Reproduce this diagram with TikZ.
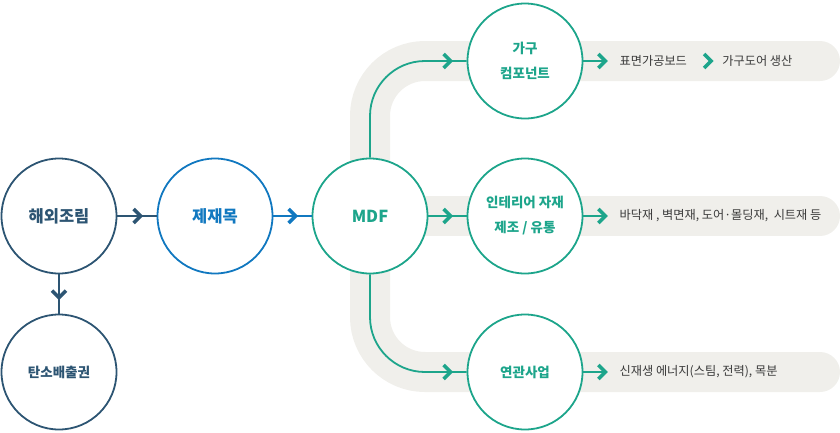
\documentclass[tikz,border=0pt]{standalone}
\usepackage{fontspec}
\setmainfont{Noto Sans CJK KR}
\usetikzlibrary{calc}
\definecolor{cNavy}{HTML}{2D5573}
\definecolor{cBlue}{HTML}{1178C0}
\definecolor{cTeal}{HTML}{1DA58B}
\definecolor{cBand}{HTML}{F0EFEB}
\definecolor{cText}{HTML}{3A3A3A}
\tikzset{
  circ/.style={circle, minimum size=115pt, inner sep=0pt, line width=1.8pt, fill=white, align=center},
  big/.style={font=\fontsize{16.5}{20}\selectfont\bfseries},
  small/.style={font=\fontsize{13.5}{25}\selectfont\bfseries},
  conn/.style={line width=1.8pt},
  band/.style={line width=40pt, draw=cBand, line cap=round},
  side/.style={font=\fontsize{12.2}{14}\selectfont, text=cText, inner sep=0pt, anchor=west},
  chevr/.pic={\draw[line width=3.6pt, line join=miter, line cap=butt] (-7,-7) -- (0,0) -- (-7,7);},
  chevd/.pic={\draw[line width=3.6pt, line join=miter, line cap=butt] (-7,-7) -- (0,0) -- (7,-7);}
}
\begin{document}
\begin{tikzpicture}[x=1pt,y=-1pt]
\useasboundingbox (0,0) rectangle (840,432);
% background bands
\draw[band, rounded corners=55pt] (820,61) -- (370,61) -- (370,372) -- (820,372);
\draw[band] (370,216) -- (820,216);
% circles
\node[circ, draw=cNavy, text=cNavy, big] (hw) at (59,216) {해외조림};
\node[circ, draw=cNavy, text=cNavy, small] (tan) at (59,372) {탄소배출권};
\node[circ, draw=cBlue, text=cBlue, big] (jj) at (215,216) {제재목};
\node[circ, draw=cTeal, text=cTeal, big] (mdf) at (370,216) {MDF};
\node[circ, draw=cTeal, text=cTeal, small] (k1) at (525,61) {가구\\컴포넌트};
\node[circ, draw=cTeal, text=cTeal, small] (k2) at (525,216) {인테리어 자재\\제조 / 유통};
\node[circ, draw=cTeal, text=cTeal, small] (k3) at (525,372) {연관사업};
% connectors left
\draw[conn, cNavy] (hw) -- (jj);
\pic[cNavy] at ($(jj.west)+(-16,0)$) {chevr};
\draw[conn, cNavy] (hw) -- (tan);
\pic[cNavy] at ($(tan.north)+(0,-16)$) {chevd};
\draw[conn, cBlue] (jj) -- (mdf);
\pic[cBlue] at ($(mdf.west)+(-16,0)$) {chevr};
% MDF branches
\draw[conn, cTeal, rounded corners=55pt] (mdf.north) |- (k1.west);
\pic[cTeal] at ($(k1.west)+(-16,0)$) {chevr};
\draw[conn, cTeal] (mdf) -- (k2);
\pic[cTeal] at ($(k2.west)+(-16,0)$) {chevr};
\draw[conn, cTeal, rounded corners=55pt] (mdf.south) |- (k3.west);
\pic[cTeal] at ($(k3.west)+(-16,0)$) {chevr};
% outputs
\draw[conn, cTeal] (k1.east) -- ++(22,0) coordinate (a1);
\pic[cTeal] at (a1) {chevr};
\node[side] (t1) at ($(a1)+(14,0)$) {표면가공보드};
\pic[cTeal] at ($(t1.east)+(24,0)$) {chevr};
\node[side] (t1b) at ($(t1.east)+(35,0)$) {가구도어 생산};
\draw[conn, cTeal] (k2.east) -- ++(22,0) coordinate (a2);
\pic[cTeal] at (a2) {chevr};
\node[side] (t2) at ($(a2)+(14,0)$) {바닥재 , 벽면재, 도어·몰딩재,\ \ 시트재 등};
\draw[conn, cTeal] (k3.east) -- ++(22,0) coordinate (a3);
\pic[cTeal] at (a3) {chevr};
\node[side] (t3) at ($(a3)+(14,0)$) {신재생 에너지(스팀, 전력), 목분};
\end{tikzpicture}
\end{document}
